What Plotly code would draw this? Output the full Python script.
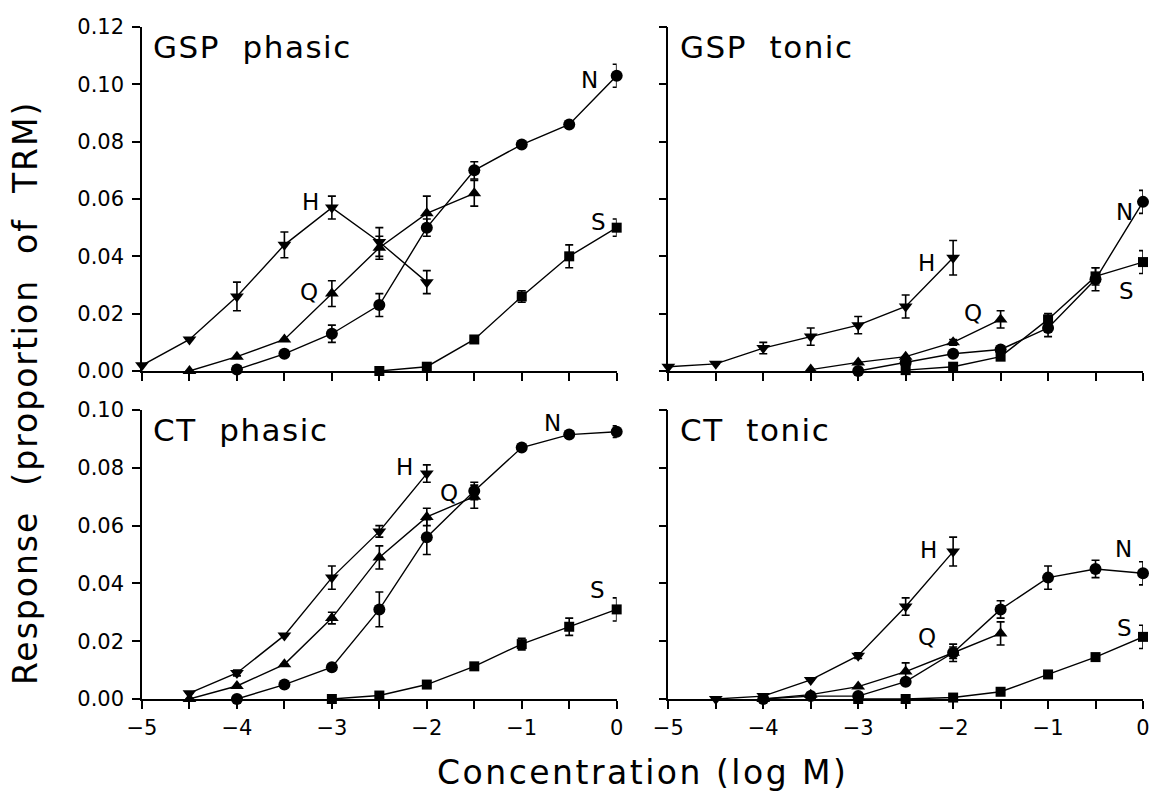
import plotly.graph_objects as go

# ---------------- data ----------------
conc = [-5, -4.5, -4, -3.5, -3, -2.5, -2, -1.5, -1, -0.5, 0]
x_ticks = [-5, -4, -3, -2, -1, 0]
x_tick_text = ["\u22125", "\u22124", "\u22123", "\u22122", "\u22121", "0"]

# GSP phasic
gsp_ph_H = [0.002, 0.011, 0.026, 0.044, 0.057, 0.045, 0.031, None, None, None, None]
gsp_ph_H_err = [0, 0, 0.005, 0.0045, 0.004, 0.005, 0.004, 0, 0, 0, 0]
gsp_ph_Q = [None, 0.0, 0.005, 0.011, 0.027, 0.043, 0.055, 0.062, None, None, None]
gsp_ph_Q_err = [0, 0, 0, 0, 0.0045, 0.004, 0.006, 0.0045, 0, 0, 0]
gsp_ph_N = [None, None, 0.0005, 0.006, 0.013, 0.023, 0.050, 0.070, 0.079, 0.086, 0.103]
gsp_ph_N_err = [0, 0, 0, 0, 0.003, 0.004, 0.003, 0.003, 0, 0, 0.004]
gsp_ph_S = [None, None, None, None, None, 0.0, 0.0015, 0.011, 0.026, 0.040, 0.050]
gsp_ph_S_err = [0, 0, 0, 0, 0, 0, 0, 0, 0.002, 0.004, 0.003]

# GSP tonic
gsp_to_H = [0.0015, 0.0025, 0.008, 0.012, 0.016, 0.0225, 0.0395, None, None, None, None]
gsp_to_H_err = [0, 0, 0.002, 0.003, 0.003, 0.004, 0.006, 0, 0, 0, 0]
gsp_to_Q = [None, None, None, 0.0005, 0.003, 0.005, 0.010, 0.018, None, None, None]
gsp_to_Q_err = [0, 0, 0, 0, 0, 0, 0.001, 0.003, 0, 0, 0]
gsp_to_N = [None, None, None, None, 0.0, 0.003, 0.006, 0.0075, 0.015, 0.032, 0.059]
gsp_to_N_err = [0, 0, 0, 0, 0, 0, 0, 0, 0.003, 0.004, 0.004]
gsp_to_S = [None, None, None, None, None, 0.0003, 0.0015, 0.005, 0.018, 0.033, 0.038]
gsp_to_S_err = [0, 0, 0, 0, 0, 0, 0, 0, 0.002, 0.003, 0.004]

# CT phasic
ct_ph_H = [None, 0.002, 0.009, 0.022, 0.042, 0.058, 0.078, None, None, None, None]
ct_ph_H_err = [0, 0, 0.001, 0, 0.004, 0.002, 0.003, 0, 0, 0, 0]
ct_ph_Q = [None, 0.0, 0.0045, 0.012, 0.028, 0.049, 0.063, 0.070, None, None, None]
ct_ph_Q_err = [0, 0, 0, 0, 0.002, 0.004, 0.003, 0.004, 0, 0, 0]
ct_ph_N = [None, None, 0.0, 0.005, 0.011, 0.031, 0.056, 0.072, 0.087, 0.0915, 0.0925]
ct_ph_N_err = [0, 0, 0, 0, 0, 0.006, 0.006, 0.003, 0, 0, 0.002]
ct_ph_S = [None, None, None, None, 0.0, 0.0012, 0.005, 0.0113, 0.019, 0.025, 0.031]
ct_ph_S_err = [0, 0, 0, 0, 0, 0, 0, 0, 0.002, 0.003, 0.004]

# CT tonic
ct_to_H = [None, 0.0, 0.001, 0.0066, 0.015, 0.032, 0.051, None, None, None, None]
ct_to_H_err = [0, 0, 0, 0, 0.001, 0.003, 0.005, 0, 0, 0, 0]
ct_to_Q = [None, None, 0.0, 0.0015, 0.0043, 0.0095, 0.016, 0.0227, None, None, None]
ct_to_Q_err = [0, 0, 0, 0, 0, 0.003, 0.003, 0.004, 0, 0, 0]
ct_to_N = [None, None, 0.0, 0.001, 0.001, 0.006, 0.016, 0.031, 0.042, 0.045, 0.0435]
ct_to_N_err = [0, 0, 0, 0, 0, 0, 0.002, 0.003, 0.004, 0.003, 0.004]
ct_to_S = [None, None, None, None, 0.0, 0.0, 0.0005, 0.0025, 0.0085, 0.0145, 0.0215]
ct_to_S_err = [0, 0, 0, 0, 0, 0, 0, 0, 0, 0.001, 0.004]

panel_titles = ["GSP\u00a0\u00a0phasic", "GSP\u00a0\u00a0tonic", "CT\u00a0\u00a0phasic", "CT\u00a0\u00a0tonic"]
x_title = "Concentration (log M)"
y_title = "Response\u00a0\u00a0(proportion\u00a0\u00a0of\u00a0\u00a0TRM)"

# series label positions (x, y) per panel: H, Q, N, S
gsp_ph_labels = {"H": (-3.23, 0.059), "Q": (-3.24, 0.0276), "N": (-0.29, 0.1015), "S": (-0.19, 0.052)}
gsp_to_labels = {"H": (-2.28, 0.0377), "Q": (-1.79, 0.0202), "N": (-0.19, 0.0555), "S": (-0.17, 0.028)}
ct_ph_labels = {"H": (-2.24, 0.0804), "Q": (-1.77, 0.0713), "N": (-0.68, 0.0955), "S": (-0.2, 0.0377)}
ct_to_labels = {"H": (-2.26, 0.0516), "Q": (-2.28, 0.0215), "N": (-0.21, 0.052), "S": (-0.19, 0.0245)}

# ---------------- figure ----------------
FONT = "DejaVu Sans"
symbols = {"H": "triangle-down", "Q": "triangle-up", "N": "circle", "S": "square"}
msize = {"H": 12, "Q": 12, "N": 12, "S": 10}


def spaced(text, px):
    return f'<span style="letter-spacing:{px}px">{text}</span>'


panels = [
    ("x", "y", {"H": (gsp_ph_H, gsp_ph_H_err), "Q": (gsp_ph_Q, gsp_ph_Q_err),
                "N": (gsp_ph_N, gsp_ph_N_err), "S": (gsp_ph_S, gsp_ph_S_err)}, gsp_ph_labels),
    ("x2", "y2", {"H": (gsp_to_H, gsp_to_H_err), "Q": (gsp_to_Q, gsp_to_Q_err),
                  "N": (gsp_to_N, gsp_to_N_err), "S": (gsp_to_S, gsp_to_S_err)}, gsp_to_labels),
    ("x3", "y3", {"H": (ct_ph_H, ct_ph_H_err), "Q": (ct_ph_Q, ct_ph_Q_err),
                  "N": (ct_ph_N, ct_ph_N_err), "S": (ct_ph_S, ct_ph_S_err)}, ct_ph_labels),
    ("x4", "y4", {"H": (ct_to_H, ct_to_H_err), "Q": (ct_to_Q, ct_to_Q_err),
                  "N": (ct_to_N, ct_to_N_err), "S": (ct_to_S, ct_to_S_err)}, ct_to_labels),
]

fig = go.Figure()
annotations = []
for i, (xa, ya, series, labels) in enumerate(panels):
    for name in ["S", "N", "Q", "H"]:
        yv, ev = series[name]
        fig.add_trace(go.Scatter(
            x=conc, y=yv, xaxis=xa, yaxis=ya, mode="lines+markers",
            line=dict(color="black", width=1.4),
            marker=dict(symbol=symbols[name], size=msize[name], color="black"),
            error_y=dict(type="data", array=ev, color="black", thickness=1.6, width=4),
            cliponaxis=False, showlegend=False, name=name,
        ))
        lx, ly = labels[name]
        annotations.append(dict(x=lx, y=ly, xref=xa, yref=ya, text=name, showarrow=False,
                                font=dict(family=FONT, size=23, color="black")))
    annotations.append(dict(x=0.02, y=1.0, xref=f"{xa} domain", yref=f"{ya} domain",
                            text=spaced(panel_titles[i], 1.5), showarrow=False,
                            xanchor="left", yanchor="top",
                            font=dict(family=FONT, size=31, color="black")))

annotations.append(dict(x=0.5, y=-0.11, xref="paper", yref="paper", text=spaced(x_title, 2.5),
                        showarrow=False, yanchor="middle",
                        font=dict(family=FONT, size=33, color="black")))
annotations.append(dict(x=-0.117, y=0.455, xref="paper", yref="paper", text=spaced(y_title, 2),
                        showarrow=False, textangle=-90, xanchor="center", yanchor="middle",
                        font=dict(family=FONT, size=33, color="black")))

W, H = 1158, 800
ml, mr, mt, mb = 142, 8, 27, 101
pw, ph = W - ml - mr, H - mt - mb
xd_left = [0, 478 / pw]
xd_right = [530 / pw, 1]
yd_top = [(699 - 371) / ph, 1]
yd_bot = [0, 289 / ph]

axis_common = dict(showline=True, linecolor="black", linewidth=1.5, ticks="outside",
                   tickcolor="black", tickwidth=1.5, ticklen=8, showgrid=False, zeroline=False,
                   tickfont=dict(family=FONT, size=21, color="black"))


def xaxis(domain, anchor, labels):
    return dict(axis_common, domain=domain, anchor=anchor, range=[-5, 0],
                tickmode="array", tickvals=x_ticks, ticktext=x_tick_text,
                showticklabels=labels, ticklabelstandoff=1,
                minor=dict(tickmode="array", tickvals=[-4.5, -3.5, -2.5, -1.5, -0.5],
                           ticks="outside", ticklen=8, tickwidth=1.5, tickcolor="black"))


def yaxis(domain, anchor, rng, dt, labels):
    return dict(axis_common, domain=domain, anchor=anchor, range=rng, dtick=dt, tick0=0,
                tickformat=".2f", showticklabels=labels, ticklabelstandoff=4)


fig.update_layout(
    width=W, height=H, autosize=False,
    margin=dict(l=ml, r=mr, t=mt, b=mb),
    paper_bgcolor="white", plot_bgcolor="white",
    xaxis=xaxis(xd_left, "y", False),
    xaxis2=xaxis(xd_right, "y2", False),
    xaxis3=xaxis(xd_left, "y3", True),
    xaxis4=xaxis(xd_right, "y4", True),
    yaxis=yaxis(yd_top, "x", [0, 0.12], 0.02, True),
    yaxis2=yaxis(yd_top, "x2", [0, 0.12], 0.02, False),
    yaxis3=yaxis(yd_bot, "x3", [0, 0.10], 0.02, True),
    yaxis4=yaxis(yd_bot, "x4", [0, 0.10], 0.02, False),
    annotations=annotations,
)

fig.write_html("out.html")
